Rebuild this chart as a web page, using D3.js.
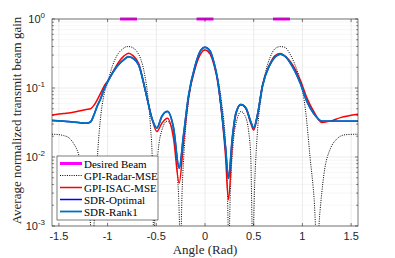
<!DOCTYPE html>
<html>
<head>
<meta charset="utf-8">
<script src="https://cdn.jsdelivr.net/npm/d3@7"></script>
<style>
  body { margin: 0; background: #fff; }
  svg { display: block; }
  .serif { font-family: 'Liberation Serif', 'Times New Roman', serif; }
  .sans { font-family: 'Liberation Sans', Arial, sans-serif; }
</style>
</head>
<body>
<div id="chart"></div>
<script>
// angles (rad) and normalized gains
const beamAngles = [[-0.872, -0.698], [-0.087, 0.087], [0.698, 0.872]];
const beamGain = 1;

const radarAngles = [-1.5708, -1.50, -1.45, -1.40, -1.35, -1.30, -1.277, -1.24, -1.21, -1.18, -1.155, -1.13, -1.10, -1.07, -1.04, -1.00, -0.95, -0.90, -0.85, -0.80, -0.78, -0.75, -0.70, -0.66, -0.62, -0.59, -0.56, -0.54, -0.525, -0.51, -0.48, -0.44, -0.39, -0.34, -0.30, -0.27, -0.252, -0.235, -0.21, -0.17, -0.12, -0.06, 0, 0.06, 0.12, 0.17, 0.21, 0.23, 0.244, 0.26, 0.29, 0.33, 0.37, 0.41, 0.45, 0.47, 0.49, 0.51, 0.54, 0.58, 0.62, 0.67, 0.72, 0.77, 0.82, 0.87, 0.92, 0.98, 1.03, 1.08, 1.12, 1.15, 1.18, 1.22, 1.29, 1.34, 1.39, 1.45, 1.5708];
const radarMse = [0.0214, 0.0211, 0.0204, 0.0191, 0.0158, 0.0112, 0.0085, 0.0055, 0.0028, 0.00126, 0.0005, 0.0020, 0.0126, 0.0398, 0.0759, 0.120, 0.209, 0.302, 0.363, 0.398, 0.398, 0.389, 0.339, 0.263, 0.158, 0.0832, 0.0282, 0.0079, 0.0005, 0.00316, 0.0126, 0.0251, 0.0331, 0.0263, 0.0126, 0.0025, 0.0005, 0.00316, 0.0158, 0.0631, 0.158, 0.288, 0.355, 0.288, 0.158, 0.0631, 0.0158, 0.00316, 0.0005, 0.00316, 0.0158, 0.0355, 0.0457, 0.0398, 0.0224, 0.0100, 0.0005, 0.0040, 0.0251, 0.0794, 0.166, 0.282, 0.372, 0.398, 0.389, 0.316, 0.224, 0.123, 0.0501, 0.0095, 0.0025, 0.0005, 0.0016, 0.0055, 0.0135, 0.0174, 0.0200, 0.0211, 0.0214];

const isacAngles = [-1.5708, -1.45, -1.38, -1.28, -1.22, -1.174, -1.14, -1.106, -1.07, -1.038, -1.00, -0.935, -0.88, -0.833, -0.785, -0.74, -0.68, -0.61, -0.545, -0.494, -0.443, -0.385, -0.323, -0.265, -0.22, -0.17, -0.10, -0.05, 0, 0.05, 0.097, 0.13, 0.18, 0.21, 0.241, 0.281, 0.316, 0.368, 0.42, 0.47, 0.50, 0.54, 0.59, 0.66, 0.72, 0.774, 0.83, 0.877, 0.979, 1.048, 1.116, 1.20, 1.287, 1.39, 1.5708];
const isacMse = [0.0407, 0.0427, 0.0437, 0.0468, 0.0487, 0.0501, 0.0562, 0.0676, 0.0851, 0.105, 0.126, 0.182, 0.245, 0.290, 0.320, 0.295, 0.224, 0.0891, 0.0363, 0.0234, 0.0309, 0.0363, 0.0186, 0.0042, 0.0166, 0.0708, 0.195, 0.302, 0.355, 0.316, 0.204, 0.123, 0.0324, 0.0107, 0.0024, 0.0166, 0.0407, 0.0575, 0.0501, 0.0309, 0.0245, 0.0407, 0.110, 0.214, 0.295, 0.316, 0.282, 0.240, 0.129, 0.0708, 0.0457, 0.0316, 0.0331, 0.0372, 0.0417];
const sdrOptimal = [0.0339, 0.0331, 0.0324, 0.0313, 0.0309, 0.0324, 0.0407, 0.0550, 0.0708, 0.0955, 0.123, 0.178, 0.224, 0.257, 0.284, 0.269, 0.214, 0.0891, 0.0363, 0.0263, 0.0389, 0.0457, 0.0263, 0.0069, 0.0209, 0.0759, 0.214, 0.339, 0.389, 0.347, 0.219, 0.132, 0.0355, 0.0141, 0.0049, 0.0191, 0.0427, 0.0575, 0.0513, 0.0324, 0.0263, 0.0417, 0.107, 0.209, 0.282, 0.309, 0.282, 0.229, 0.117, 0.0631, 0.0427, 0.0331, 0.0331, 0.0331, 0.0331];
const sdrRank1 = [0.0339, 0.0331, 0.0324, 0.0313, 0.0309, 0.0324, 0.0407, 0.0550, 0.0708, 0.0955, 0.123, 0.178, 0.224, 0.257, 0.284, 0.269, 0.214, 0.0891, 0.0363, 0.0263, 0.0389, 0.0457, 0.0263, 0.0069, 0.0209, 0.0759, 0.214, 0.339, 0.389, 0.347, 0.219, 0.132, 0.0355, 0.0141, 0.0049, 0.0191, 0.0427, 0.0575, 0.0513, 0.0324, 0.0263, 0.0417, 0.107, 0.209, 0.282, 0.309, 0.282, 0.229, 0.117, 0.0631, 0.0427, 0.0331, 0.0331, 0.0331, 0.0331];

const xTicks = [-1.5, -1, -0.5, 0, 0.5, 1, 1.5];
const yTicks = [1e-3, 1e-2, 1e-1, 1];
const yExponents = ['-3', '-2', '-1', '0'];
const legendNames = ['Desired Beam', 'GPI-Radar-MSE', 'GPI-ISAC-MSE', 'SDR-Optimal', 'SDR-Rank1'];

const width = 395, height = 258;
const margin = { top: 19, right: 37, bottom: 32, left: 52 };
const axisColor = '#262626';

const svg = d3.select('#chart').append('svg')
  .attr('width', width)
  .attr('height', height);

const x = d3.scaleLinear()
  .domain([-Math.PI / 2, Math.PI / 2])
  .range([margin.left, width - margin.right]);
const y = d3.scaleLog()
  .domain([1e-3, 1])
  .range([height - margin.bottom, margin.top]);

// grid
const minorY = [];
[1e-3, 1e-2, 1e-1].forEach(d => { for (let k = 2; k <= 9; k++) minorY.push(d * k); });
svg.append('g').selectAll('line').data(minorY).enter().append('line')
  .attr('x1', margin.left).attr('x2', width - margin.right)
  .attr('y1', d => y(d)).attr('y2', d => y(d))
  .attr('stroke', '#f0f0f0').attr('stroke-width', 0.6);
svg.append('g').selectAll('line').data(yTicks).enter().append('line')
  .attr('x1', margin.left).attr('x2', width - margin.right)
  .attr('y1', d => y(d)).attr('y2', d => y(d))
  .attr('stroke', '#dedede').attr('stroke-width', 0.6);
svg.append('g').selectAll('line').data(xTicks).enter().append('line')
  .attr('x1', d => x(d)).attr('x2', d => x(d))
  .attr('y1', margin.top).attr('y2', height - margin.bottom)
  .attr('stroke', '#dedede').attr('stroke-width', 0.6);

// curves
svg.append('clipPath').attr('id', 'plot-clip').append('rect')
  .attr('x', margin.left).attr('y', margin.top - 3)
  .attr('width', width - margin.left - margin.right)
  .attr('height', height - margin.top - margin.bottom + 3);

const plot = svg.append('g').attr('clip-path', 'url(#plot-clip)');
const line = d3.line()
  .x(d => x(d[0]))
  .y(d => y(d[1]))
  .curve(d3.curveMonotoneX);

beamAngles.forEach(seg => {
  plot.append('line')
    .attr('x1', x(seg[0])).attr('x2', x(seg[1]))
    .attr('y1', y(beamGain)).attr('y2', y(beamGain))
    .attr('stroke', '#ff00ff').attr('stroke-width', 3);
});

plot.append('path')
  .datum(d3.zip(radarAngles, radarMse))
  .attr('d', line)
  .attr('fill', 'none').attr('stroke', '#000').attr('stroke-width', 1)
  .attr('stroke-dasharray', '1,1.3');
plot.append('path')
  .datum(d3.zip(isacAngles, isacMse))
  .attr('d', line)
  .attr('fill', 'none').attr('stroke', '#ff0000').attr('stroke-width', 1.5);
plot.append('path')
  .datum(d3.zip(isacAngles, sdrOptimal))
  .attr('d', line)
  .attr('fill', 'none').attr('stroke', '#0000ff').attr('stroke-width', 1.5);
plot.append('path')
  .datum(d3.zip(isacAngles, sdrRank1))
  .attr('d', line)
  .attr('fill', 'none').attr('stroke', '#0072bd').attr('stroke-width', 1.8);

// axes box and ticks
const x0 = margin.left, x1 = width - margin.right;
const y0 = height - margin.bottom, y1 = margin.top;
svg.append('rect')
  .attr('x', x0).attr('y', y1).attr('width', x1 - x0).attr('height', y0 - y1)
  .attr('fill', 'none').attr('stroke', axisColor).attr('stroke-width', 0.6);

const ticks = svg.append('g').attr('stroke', axisColor).attr('stroke-width', 0.6);
xTicks.forEach(t => {
  ticks.append('line').attr('x1', x(t)).attr('x2', x(t)).attr('y1', y0).attr('y2', y0 - 3);
  ticks.append('line').attr('x1', x(t)).attr('x2', x(t)).attr('y1', y1).attr('y2', y1 + 3);
});
yTicks.forEach(t => {
  ticks.append('line').attr('x1', x0).attr('x2', x0 + 3).attr('y1', y(t)).attr('y2', y(t));
  ticks.append('line').attr('x1', x1).attr('x2', x1 - 3).attr('y1', y(t)).attr('y2', y(t));
});
minorY.forEach(t => {
  ticks.append('line').attr('x1', x0).attr('x2', x0 + 1.8).attr('y1', y(t)).attr('y2', y(t));
  ticks.append('line').attr('x1', x1).attr('x2', x1 - 1.8).attr('y1', y(t)).attr('y2', y(t));
});

// tick labels
svg.append('g').selectAll('text').data(xTicks).enter().append('text')
  .attr('class', 'sans')
  .attr('x', d => x(d)).attr('y', y0 + 14)
  .attr('text-anchor', 'middle')
  .attr('font-size', 11).attr('fill', axisColor)
  .text(d => String(d));

yTicks.forEach((t, i) => {
  const g = svg.append('text')
    .attr('class', 'sans')
    .attr('x', x0 - 7).attr('y', y(t) + 4)
    .attr('text-anchor', 'end')
    .attr('font-size', 11).attr('fill', axisColor);
  g.append('tspan').text('10');
  g.append('tspan').attr('dy', -5).attr('font-size', 8).text(yExponents[i]);
});

// axis titles
svg.append('text')
  .attr('class', 'serif')
  .attr('x', (x0 + x1) / 2).attr('y', 254)
  .attr('text-anchor', 'middle')
  .attr('font-size', 13).attr('fill', axisColor)
  .text('Angle (Rad)');
svg.append('text')
  .attr('class', 'serif')
  .attr('transform', `translate(21,${(y0 + y1) / 2 - 2}) rotate(-90)`)
  .attr('text-anchor', 'middle')
  .attr('font-size', 13).attr('fill', axisColor)
  .text('Average normalized transmit beam gain');

// legend
const legendStyles = [
  { color: '#ff00ff', width: 3, dash: null },
  { color: '#000', width: 1, dash: '1,1.3' },
  { color: '#ff0000', width: 1.5, dash: null },
  { color: '#0000ff', width: 1.5, dash: null },
  { color: '#0072bd', width: 1.8, dash: null },
];
const legend = svg.append('g').attr('transform', 'translate(57,156)');
legend.append('rect')
  .attr('width', 101).attr('height', 64)
  .attr('fill', '#fff').attr('stroke', axisColor).attr('stroke-width', 0.6);
legendNames.forEach((name, i) => {
  const ly = 7.5 + i * 12;
  legend.append('line')
    .attr('x1', 3).attr('x2', 25).attr('y1', ly).attr('y2', ly)
    .attr('stroke', legendStyles[i].color)
    .attr('stroke-width', legendStyles[i].width)
    .attr('stroke-dasharray', legendStyles[i].dash);
  legend.append('text')
    .attr('class', 'serif')
    .attr('x', 27).attr('y', ly + 4)
    .attr('font-size', 11).attr('fill', '#000')
    .text(name);
});
</script>
</body>
</html>
